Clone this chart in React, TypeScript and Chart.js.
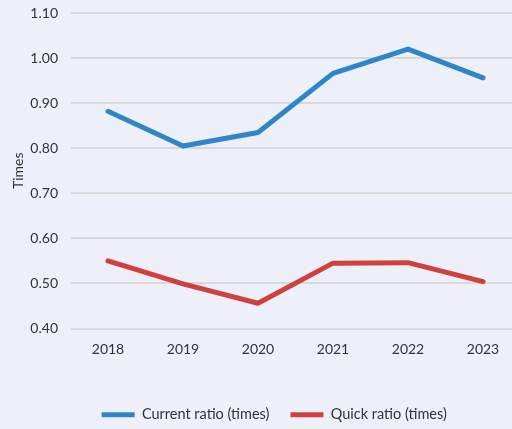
import React, { useEffect, useRef } from "react";
import { Chart, registerables } from "chart.js";

Chart.register(...registerables);

const years = ["2018", "2019", "2020", "2021", "2022", "2023"];
const currentRatio = [0.882, 0.805, 0.835, 0.966, 1.02, 0.956];
const quickRatio = [0.55, 0.499, 0.456, 0.545, 0.546, 0.504];
const seriesNames = ["Current ratio (times)", "Quick ratio (times)"];
const yTitle = "Times";

const BG = "#edf0f9";
const FONT = "Lato, 'Open Sans', sans-serif";
const TXT = "#333333";

export default function App() {
  const ref = useRef<HTMLCanvasElement>(null);
  useEffect(() => {
    if (!ref.current) return;
    const bgPlugin = {
      id: "bg",
      beforeDraw(chart: any) {
        const c = chart.ctx;
        c.save();
        c.fillStyle = BG;
        c.fillRect(0, 0, chart.width, chart.height);
        c.restore();
      },
    };
    const legendShift = {
      id: "legendShift",
      afterLayout(chart: any) {
        const lg = chart.legend;
        if (lg) {
          lg.left += 14;
          lg.right += 14;
          lg.top += 4;
          lg.bottom += 4;
        }
      },
    };
    const chart = new Chart(ref.current, {
      type: "line",
      data: {
        labels: years,
        datasets: [
          {
            label: seriesNames[0],
            data: currentRatio,
            borderColor: "#2e86c9",
            backgroundColor: "#2e86c9",
            borderWidth: 5,
            pointRadius: 0,
            borderCapStyle: "round",
            borderJoinStyle: "round",
            tension: 0,
          },
          {
            label: seriesNames[1],
            data: quickRatio,
            borderColor: "#d0403f",
            backgroundColor: "#d0403f",
            borderWidth: 5,
            pointRadius: 0,
            borderCapStyle: "round",
            borderJoinStyle: "round",
            tension: 0,
          },
        ],
      },
      options: {
        responsive: false,
        animation: false,
        layout: { padding: { top: 13, bottom: 1, left: 0, right: 1.5 } },
        plugins: {
          legend: {
            position: "bottom",
            labels: {
              usePointStyle: true,
              pointStyle: "line",
              pointStyleWidth: 33,
              boxHeight: 5,
              padding: 21,
              color: TXT,
              font: { family: FONT, size: 14.5 },
            },
          },
          tooltip: { enabled: false },
        },
        scales: {
          x: {
            offset: true,
            grid: { display: false, drawTicks: false },
            border: { display: false },
            ticks: { color: TXT, font: { family: FONT, size: 14 }, padding: 12.6 },
            afterFit(scale: any) {
              scale.height = 54;
            },
          },
          y: {
            min: 0.4,
            max: 1.1,
            ticks: {
              stepSize: 0.1,
              padding: 12.5,
              color: TXT,
              font: { family: FONT, size: 14 },
              callback: (v: any) => Number(v).toFixed(2),
            },
            grid: { color: "#d9d9d9", lineWidth: 2, drawTicks: false },
            border: { display: false },
            title: {
              display: true,
              text: yTitle,
              color: TXT,
              font: { family: FONT, size: 14 },
              padding: { top: 10, bottom: 0 },
            },
            afterFit(scale: any) {
              scale.width = 70.5;
              scale.paddingTop = 0;
              scale.paddingBottom = 0;
            },
          },
        },
      },
      plugins: [bgPlugin, legendShift],
    });
    return () => chart.destroy();
  }, []);
  return (
    <div
      style={{
        position: "fixed",
        left: 0,
        top: 0,
        width: 512,
        height: 429,
        overflow: "hidden",
        background: BG,
      }}
    >
      <canvas ref={ref} width={522} height={429} style={{ display: "block" }} />
    </div>
  );
}
